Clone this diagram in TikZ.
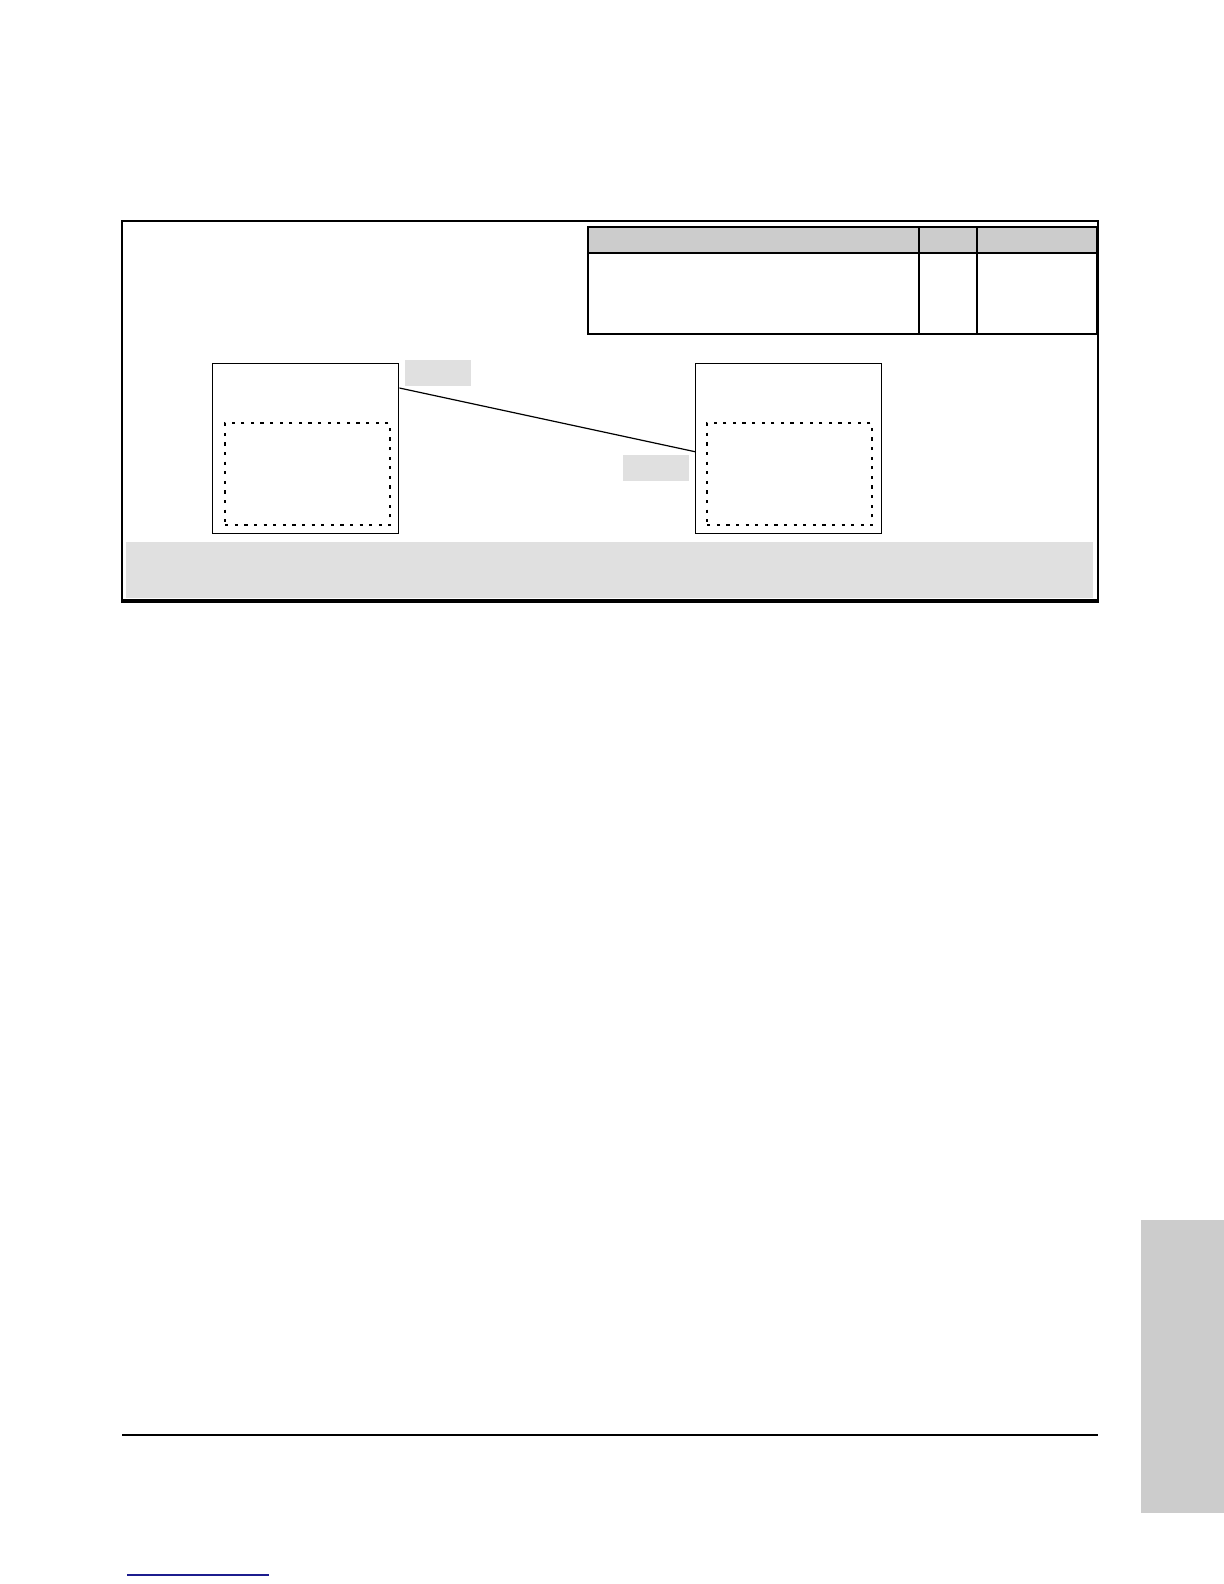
\documentclass[tikz,border=0pt]{standalone}
\usepackage{tikz}
\usetikzlibrary{positioning}
\definecolor{hdrgray}{HTML}{CCCCCC}
\definecolor{tabgray}{HTML}{E0E0E0}
\definecolor{linkblue}{HTML}{1C1C8E}
\begin{document}
\begin{tikzpicture}[x=0.5pt,y=-0.5pt,
    devbox/.style={draw,line width=0.7pt,inner sep=0pt,anchor=north west,
      minimum width=93pt,minimum height=85pt},
    portbox/.style={draw,line width=1.2pt,dash pattern=on 1.6pt off 3.2pt,
      inner sep=0pt,anchor=north west,minimum width=82.5pt,minimum height=51pt},
    tag/.style={fill=tabgray,inner sep=0pt,anchor=north west,
      minimum width=33pt,minimum height=13pt}]
  \useasboundingbox (0,0) rectangle (1224,1584);
  % outer frame
  \draw[line width=1pt] (122,221) rectangle (1098,601);
  \draw[line width=1.6pt] (121,601) -- (1099,601);
  % table at top right
  \fill[hdrgray] (588,227) rectangle (1097,253);
  \draw[line width=0.7pt] (588,227) rectangle (1097,334);
  \draw[line width=0.7pt] (588,253) -- (1097,253);
  \draw[line width=0.7pt] (919,227) -- (919,334);
  \draw[line width=0.7pt] (977,227) -- (977,334);
  % devices
  \node[devbox] (lbox) at (212,363) {};
  \node[devbox] (rbox) at (695,363) {};
  \node[portbox] (lport) at (224,422) {};
  \node[portbox] (rport) at (706,422) {};
  \node[tag] (ltag) at (405,360) {};
  \node[tag] (rtag) at (623,455) {};
  % link
  \draw[line width=0.6pt] ([yshift=-12.5pt]lbox.north east) -- ([yshift=-1.5pt]rbox.west);
  % note band
  \fill[tabgray] (126,542) rectangle (1093,598);
  % page furniture
  \fill[hdrgray] (1141,1220) rectangle (1224,1513);
  \draw[line width=0.8pt] (122,1435) -- (1098,1435);
  \draw[linkblue,line width=0.6pt] (127,1575) -- (269,1575);
\end{tikzpicture}
\end{document}
